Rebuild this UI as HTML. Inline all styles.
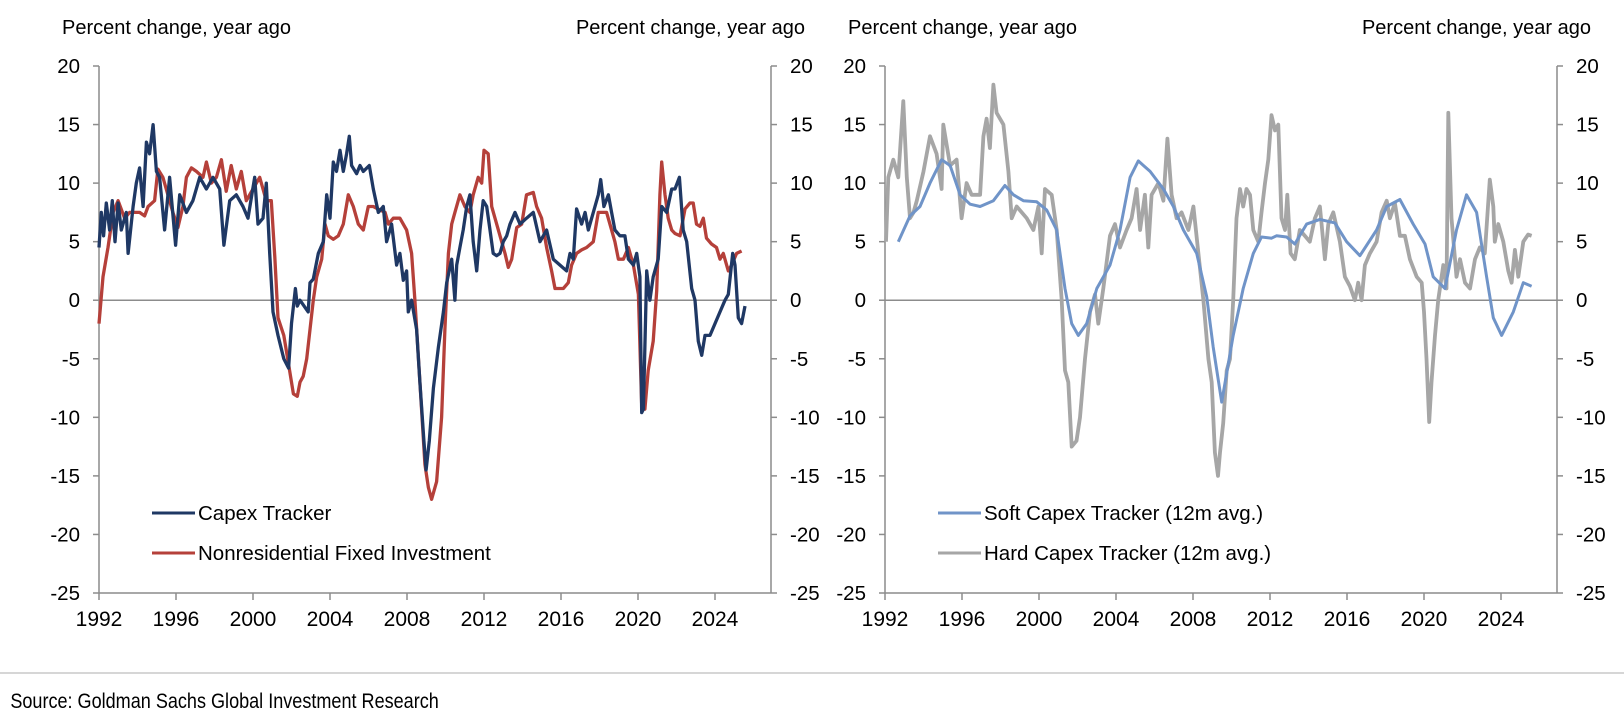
<!DOCTYPE html>
<html><head><meta charset="utf-8"><style>
html,body{margin:0;padding:0;background:#fff;}
svg text{font-family:"Liberation Sans",Arial,sans-serif;fill:#000;}
</style></head><body>
<svg id="c" width="1624" height="721" xmlns="http://www.w3.org/2000/svg"></svg>
<script>
const capexDates=[1992.0,1992.12,1992.24,1992.38,1992.55,1992.69,1992.83,1992.99,1993.16,1993.42,1993.51,1993.77,1993.94,1994.11,1994.29,1994.46,1994.63,1994.81,1994.98,1995.15,1995.41,1995.67,1995.98,1996.19,1996.54,1996.88,1997.23,1997.58,1997.92,1998.27,1998.49,1998.79,1999.13,1999.48,1999.74,2000.09,2000.26,2000.52,2000.69,2000.87,2001.04,2001.3,2001.6,2001.85,2002.0,2002.2,2002.3,2002.44,2002.87,2002.96,2003.13,2003.39,2003.65,2003.83,2004.0,2004.17,2004.34,2004.52,2004.69,2004.86,2005.0,2005.12,2005.38,2005.56,2005.73,2006.04,2006.25,2006.51,2006.77,2006.94,2007.2,2007.46,2007.63,2007.81,2007.98,2008.07,2008.24,2008.5,2008.67,2008.88,2008.99,2009.16,2009.37,2009.63,2009.89,2010.06,2010.32,2010.49,2010.58,2010.75,2010.92,2011.1,2011.27,2011.44,2011.62,2011.79,2011.96,2012.14,2012.31,2012.48,2012.66,2012.83,2013.0,2013.18,2013.35,2013.61,2013.87,2014.21,2014.56,2014.91,2015.25,2015.6,2015.95,2016.29,2016.47,2016.64,2016.81,2017.07,2017.25,2017.42,2017.68,2017.94,2018.06,2018.23,2018.46,2018.63,2018.8,2019.06,2019.32,2019.5,2019.76,2019.93,2020.1,2020.19,2020.28,2020.45,2020.62,2020.79,2021.05,2021.23,2021.49,2021.75,2021.92,2022.15,2022.35,2022.53,2022.79,2022.96,2023.13,2023.31,2023.48,2023.74,2024.0,2024.26,2024.52,2024.69,2024.92,2025.04,2025.21,2025.38,2025.56];
const capexValues=[4.5,7.5,5.5,8.3,6,8.5,5,8.3,6,7.5,4,8,10,11.3,8,13.5,12.5,15,11,10.5,6,10.5,4.7,9,7.5,8.5,10.5,9.5,10.5,9.5,4.7,8.5,9,8,7,10.5,6.5,7,10,4,-1,-3,-5,-5.8,-2,1,-0.5,0,-1,1.5,1.8,4,5,9,7,11.8,11,12.8,11,12.5,14,11.5,10.8,11.5,11,11.5,9.5,7.5,8,5,6.5,3,4,1.7,2.5,-1,0,-2.5,-7,-12,-14.5,-12,-7.5,-4,-1,1.5,3.5,0,3,4.5,6,8,9,5,2.5,6,8.5,8,6,4,3.8,4,5,5.5,6.5,7.5,6.5,7,7.5,5,6,3.5,3,2.5,4,3.5,7.8,6.5,7.5,6,7.5,9,10.3,8,9,7.5,6,5.5,5.5,3.5,3,4,2,-9.6,-9.3,2.5,0,2,3.5,8,7.5,9.5,9.5,10.5,6,5,1,0,-3.5,-4.7,-3,-3,-2,-1,0,0.5,4,3,-1.5,-2,-0.5];
const nfiDates=[1992.0,1992.21,1992.47,1992.73,1992.99,1993.33,1993.59,1994.11,1994.37,1994.55,1994.89,1995.06,1995.32,1995.58,1995.84,1996.1,1996.36,1996.54,1996.8,1997.06,1997.4,1997.58,1997.84,1998.1,1998.36,1998.61,1998.87,1999.13,1999.39,1999.65,2000.0,2000.35,2000.69,2000.95,2001.13,2001.3,2001.6,2001.9,2002.1,2002.3,2002.44,2002.61,2002.79,2002.96,2003.13,2003.31,2003.57,2003.74,2003.91,2004.17,2004.43,2004.69,2004.95,2005.21,2005.47,2005.73,2005.99,2006.25,2006.6,2006.86,2007.03,2007.29,2007.63,2007.98,2008.24,2008.41,2008.67,2008.93,2009.11,2009.28,2009.54,2009.8,2009.97,2010.15,2010.32,2010.49,2010.75,2011.01,2011.27,2011.44,2011.7,2011.88,2012.0,2012.22,2012.4,2012.57,2012.83,2013.09,2013.26,2013.44,2013.7,2013.96,2014.21,2014.56,2014.73,2014.99,2015.25,2015.51,2015.69,2016.12,2016.38,2016.55,2016.81,2017.07,2017.33,2017.68,2017.94,2018.37,2018.63,2018.8,2018.98,2019.24,2019.5,2019.76,2020.02,2020.19,2020.36,2020.53,2020.79,2020.97,2021.14,2021.23,2021.4,2021.57,2021.75,2021.92,2022.18,2022.44,2022.7,2022.87,2023.04,2023.22,2023.39,2023.56,2023.82,2024.08,2024.26,2024.43,2024.69,2024.86,2025.12,2025.38];
const nfiValues=[-2,2,4.5,7.5,8.5,7,7.5,7.5,7.2,8,8.5,11.2,10.5,9,7.5,6.2,8,10.5,11.3,11,10.5,11.8,10,10.5,12,9.3,11.5,9.5,11,8.5,9.5,10.5,8.5,8.5,3.7,-1.5,-3,-6,-8,-8.2,-7,-6.5,-5,-2.5,0,2,3.5,6.5,5.5,5.2,5.5,6.5,9,8,6.5,6,8,8,7.7,7.5,6.5,7,7,6,4,0,-7,-14,-16,-17,-15.5,-10,-2.5,4,6.5,7.5,9,8,7.5,9,10.5,10,12.8,12.5,8,7,5.5,4,2.8,3.5,6.2,6.5,9,9.2,8,7,4.5,2.5,1,1,1.5,3,4,4.3,4.5,5,7.5,7.5,6,5,3.5,3.5,4.5,3,0.5,-9,-9.3,-6,-3.5,0.8,9,11.8,9,7,6,5.7,5.5,7.8,8.3,8.3,6.5,6.3,7,5.3,4.8,4.5,3.5,4,2.5,3,4,4.2];
const softDates=[1992.69,1993.3,1993.82,1994.34,1994.94,1995.38,1995.9,1996.42,1996.94,1997.63,1998.23,1998.67,1999.19,1999.88,2000.4,2000.92,2001.35,2001.7,2002.04,2002.48,2003.0,2003.69,2004.21,2004.73,2005.16,2005.77,2006.46,2006.98,2007.5,2008.19,2008.71,2009.05,2009.49,2010.09,2010.61,2011.13,2011.56,2012.08,2012.34,2012.86,2013.29,2013.9,2014.59,2015.37,2015.98,2016.67,2017.54,2018.06,2018.75,2019.44,2020.05,2020.48,2021.09,2021.69,2022.21,2022.73,2023.25,2023.6,2024.03,2024.64,2025.16,2025.59];
const softValues=[5,7.2,8,10,12,11.5,9,8.2,8,8.5,9.8,9,8.5,8.4,7.7,6,1,-2,-3,-2,1,3,6,10.5,11.9,11,9.5,8,6,4,0.3,-4,-8.7,-3,1,4,5.4,5.3,5.5,5.4,4.8,6.5,6.9,6.6,5,3.8,6,8,8.6,6.5,4.8,2,1,6,9,7.5,2,-1.5,-3,-1,1.5,1.2];
const hardDates=[1992.05,1992.17,1992.43,1992.69,1992.95,1993.13,1993.3,1993.48,1993.65,1994.0,1994.34,1994.68,1994.94,1995.03,1995.38,1995.72,1995.98,1996.24,1996.5,1996.94,1997.11,1997.28,1997.45,1997.63,1997.8,1998.15,1998.41,1998.58,1998.84,1999.36,1999.71,1999.97,2000.14,2000.31,2000.66,2000.92,2001.18,2001.35,2001.52,2001.7,2001.95,2002.13,2002.39,2002.65,2002.91,2003.08,2003.34,2003.69,2003.95,2004.21,2004.55,2004.81,2005.07,2005.25,2005.5,2005.68,2005.85,2006.2,2006.46,2006.67,2006.89,2007.15,2007.41,2007.76,2008.02,2008.28,2008.54,2008.8,2008.97,2009.14,2009.3,2009.4,2009.57,2009.75,2009.92,2010.09,2010.26,2010.44,2010.61,2010.78,2010.96,2011.13,2011.39,2011.56,2011.74,2011.91,2012.08,2012.26,2012.43,2012.6,2012.78,2012.9,2013.07,2013.29,2013.55,2013.81,2014.07,2014.33,2014.59,2014.85,2015.03,2015.29,2015.63,2015.89,2016.15,2016.41,2016.58,2016.76,2016.93,2017.19,2017.54,2017.8,2018.06,2018.23,2018.49,2018.75,2019.01,2019.27,2019.62,2019.88,2020.0,2020.13,2020.27,2020.39,2020.57,2020.74,2021.0,2021.17,2021.26,2021.43,2021.69,2021.87,2022.13,2022.39,2022.65,2022.9,2023.16,2023.42,2023.6,2023.68,2023.86,2024.12,2024.38,2024.55,2024.72,2024.9,2025.16,2025.41,2025.59];
const hardValues=[5,10.5,12,10.5,17,10.5,7,7.5,8.5,11,14,12.5,9.5,15,11.5,12,7,10,9,9,14,15.5,13,18.4,16,15,11,7,8,7,6,8,4,9.5,9,6,0,-6,-7,-12.5,-12,-10,-5,-1,0.5,-2,1,5.5,6.5,4.5,6,7,9.5,6,9,4.5,9,10,8.5,13.8,9,7,7.5,6,8,4,0,-5,-7,-13,-15,-13,-10.5,-6,-5,0,7,9.5,8,9.5,9,6,5,7.5,10,12,15.8,14.5,15,7,6,9,4,3.5,6,5.5,5,7,8,3.5,6.5,7.5,5,2,1.2,0,1.5,0,3,4,5,7.5,8.5,7,8.3,5.5,5.5,3.5,2,1.5,-1,-5,-10.4,-7,-3,0,3,1,16,7,2,3.5,1.5,1,3.5,4.5,4,10.3,8,5,6.5,5,2.5,1.5,4.3,2,5,5.6,5.5];
const yTicks=[20,15,10,5,0,-5,-10,-15,-20,-25];
const xTicks=[1992,1996,2000,2004,2008,2012,2016,2020,2024];

const svg=document.getElementById('c');
const NS='http://www.w3.org/2000/svg';
function mk(tag,attrs,parent){const e=document.createElementNS(NS,tag);for(const k in attrs)e.setAttribute(k,attrs[k]);(parent||svg).appendChild(e);return e;}
const TOP=66,BOT=593,YMAX=20,YMIN=-25,X0YEAR=1992,PXYR=19.25,W=672;
function yScale(v){return TOP+(YMAX-v)*(BOT-TOP)/(YMAX-YMIN);}
function drawPanel(L,name,lines,legend){
  const g=mk('g',{});
  
  
  const R=L+W;
  const xs=d=>L+(d-X0YEAR)*PXYR;
  const ax='#8c8c8c';
  let e=mk('line',{x1:L,y1:TOP,x2:L,y2:BOT,stroke:ax,'stroke-width':1.5},g);
  
  e=mk('line',{x1:R,y1:TOP,x2:R,y2:BOT,stroke:ax,'stroke-width':1.5},g);
  
  e=mk('line',{x1:L,y1:BOT,x2:R,y2:BOT,stroke:ax,'stroke-width':1.5},g);
  
  e=mk('line',{x1:L,y1:yScale(0),x2:R,y2:yScale(0),stroke:ax,'stroke-width':1.5},g);
  
  yTicks.forEach(t=>{
    const y=yScale(t);
    mk('line',{x1:L-6,y1:y,x2:L,y2:y,stroke:ax,'stroke-width':1.5},g);
    mk('line',{x1:R,y1:y,x2:R+6,y2:y,stroke:ax,'stroke-width':1.5},g);
    let tx=mk('text',{x:L-19,y:y+7,'text-anchor':'end','font-size':20.5},g);tx.textContent=t;
    
    tx=mk('text',{x:R+19,y:y+7,'text-anchor':'start','font-size':20.5},g);tx.textContent=t;
    
  });
  xTicks.forEach(t=>{
    const x=xs(t);
    mk('line',{x1:x,y1:BOT,x2:x,y2:BOT+7,stroke:ax,'stroke-width':1.5},g);
    const tx=mk('text',{x:x,y:626,'text-anchor':'middle','font-size':21},g);tx.textContent=t;
    
  });
  let tl=mk('text',{x:L-37,y:34,'font-size':20},g);tl.textContent='Percent change, year ago';
  
  tl=mk('text',{x:R+34,y:34,'text-anchor':'end','font-size':20},g);tl.textContent='Percent change, year ago';
  
  lines.forEach(s=>{
    const pts=s.d.map((d,j)=>xs(d).toFixed(1)+','+yScale(s.v[j]).toFixed(1)).join(' ');
    const p=mk('polyline',{points:pts,fill:'none',stroke:s.c,'stroke-width':s.w,'stroke-linejoin':'round'},g);
    
    
  });
  legend.forEach((s,i)=>{
    const ly=513+i*40;
    const lg=mk('g',{},g);
    
    
    mk('line',{x1:L+53,y1:ly,x2:L+96,y2:ly,stroke:s.c,'stroke-width':3},lg);
    const t=mk('text',{x:L+99,y:ly+7,'font-size':20.5},lg);t.textContent=s.label;
  });
}
const capexS={d:capexDates,v:capexValues,c:'#1f3864',w:3.3,n:'capex-tracker',label:'Capex Tracker'};
const nfiS={d:nfiDates,v:nfiValues,c:'#b5403a',w:3.3,n:'nonresidential-fixed-investment',label:'Nonresidential Fixed Investment'};
const hardS={d:hardDates,v:hardValues,c:'#a6a6a6',w:3.8,n:'hard-capex-tracker',label:'Hard Capex Tracker (12m avg.)'};
const softS={d:softDates,v:softValues,c:'#7094c8',w:3,n:'soft-capex-tracker',label:'Soft Capex Tracker (12m avg.)'};
drawPanel(99,'left-chart',[nfiS,capexS],[capexS,nfiS]);
drawPanel(885,'right-chart',[hardS,softS],[softS,hardS]);
const sep=mk('line',{x1:0,y1:673,x2:1624,y2:673,stroke:'#c8c8c8','stroke-width':1.5});


const src=mk('text',{x:12,y:708,'font-size':21,fill:'#444',transform:'scale(0.86,1)'});


src.textContent='Source: Goldman Sachs Global Investment Research';
</script>
</body></html>
